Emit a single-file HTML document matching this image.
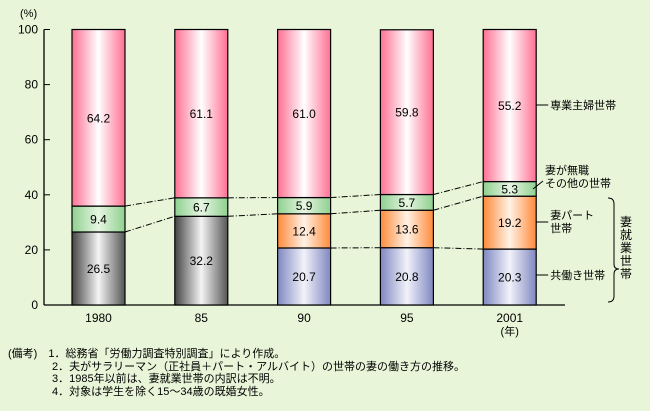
<!DOCTYPE html>
<html><head><meta charset="utf-8">
<style>
body{margin:0;background:#e8f5d8;}
#wrap{position:relative;width:650px;height:411px;background:#e8f5d8;font-family:"Liberation Sans","Noto Sans CJK JP",sans-serif;}
svg text{font-family:"Liberation Sans","Noto Sans CJK JP",sans-serif;}
.notes{position:absolute;left:8px;top:348px;font-size:11px;line-height:12.7px;color:#000;white-space:pre;}
</style></head>
<body>
<div id="wrap">
<svg id="chart" width="650" height="345">
<defs>
<linearGradient id="gPink" x1="0" x2="1"><stop offset="0" stop-color="#ff6f92"/><stop offset="0.5" stop-color="#ffffff"/><stop offset="1" stop-color="#ff6f92"/></linearGradient>
<linearGradient id="gGreen" x1="0" x2="1"><stop offset="0" stop-color="#8fd08f"/><stop offset="0.5" stop-color="#e6f6e2"/><stop offset="1" stop-color="#8fd08f"/></linearGradient>
<linearGradient id="gGray" x1="0" x2="1"><stop offset="0" stop-color="#444"/><stop offset="0.5" stop-color="#f4f4f4"/><stop offset="1" stop-color="#555"/></linearGradient>
<linearGradient id="gOrange" x1="0" x2="1"><stop offset="0" stop-color="#ff8a3a"/><stop offset="0.5" stop-color="#fff2e6"/><stop offset="1" stop-color="#ff8a3a"/></linearGradient>
<linearGradient id="gBlue" x1="0" x2="1"><stop offset="0" stop-color="#7f88c0"/><stop offset="0.5" stop-color="#f2f2fa"/><stop offset="1" stop-color="#7f88c0"/></linearGradient>
</defs>
</svg>
<div class="notes">(備考)　1．総務省「労働力調査特別調査」により作成。
　　　　2．夫がサラリーマン（正社員＋パート・アルバイト）の世帯の妻の働き方の推移。
　　　　3．1985年以前は、妻就業世帯の内訳は不明。
　　　　4．対象は学生を除く15～34歳の既婚女性。</div>
</div>
<script>
const categories=["1980","85","90","95","2001"];
const dualIncome=[0,0,20.7,20.8,20.3];
const wifeWorkTotal=[26.5,32.2,0,0,0];
const partTime=[0,0,12.4,13.6,19.2];
const otherJobless=[9.4,6.7,5.9,5.7,5.3];
const housewife=[64.2,61.1,61.0,59.8,55.2];
const yTicks=[0,20,40,60,80,100];

const svg=document.getElementById('chart');
const NS='http://www.w3.org/2000/svg';
const y0=305,y100=29.5;
const yS=v=>y0-(y0-y100)*v/100;
const bw=53;
const xS=i=>72+i*102.8;
function mk(t,a){const e=document.createElementNS(NS,t);for(const k in a)e.setAttribute(k,a[k]);svg.appendChild(e);return e;}

let ax=mk('line',{x1:44,y1:y0,x2:565,y2:y0,stroke:'#000','stroke-width':1.3});


let ay=mk('line',{x1:44,y1:y100,x2:44,y2:y0,stroke:'#000','stroke-width':1.3});


yTicks.forEach(t=>{
  const tk=mk('line',{x1:44,x2:50,y1:yS(t),y2:yS(t),stroke:'#000'});
  
  
  const tx=mk('text',{x:38,y:yS(t)+4,'text-anchor':'end','font-size':12});
  tx.textContent=t;
  
  
});
const unit=mk('text',{x:20,y:17,'font-size':11});unit.textContent='(%)';



const series=[
 {d:wifeWorkTotal,f:'url(#gGray)',n:'wife-working'},
 {d:dualIncome,f:'url(#gBlue)',n:'dual-income'},
 {d:partTime,f:'url(#gOrange)',n:'part-time'},
 {d:otherJobless,f:'url(#gGreen)',n:'other-jobless'},
 {d:housewife,f:'url(#gPink)',n:'housewife'}];
const tops=[];
categories.forEach((c,i)=>{
  let cum=0;tops[i]=[];
  series.forEach(s=>{
    const v=s.d[i];if(!v)return;
    const top=Math.min(100,cum+v);
    const r=mk('rect',{x:xS(i),y:yS(top),width:bw,height:yS(cum)-yS(top),fill:s.f,stroke:'#000','stroke-width':1.2});
    
    
    const t=mk('text',{x:xS(i)+bw/2,y:(yS(cum)+yS(top))/2+4.5,'text-anchor':'middle','font-size':12});
    t.textContent=v.toFixed(1);
    
    
    cum=top;tops[i].push(cum);
  });
  const xl=mk('text',{x:xS(i)+bw/2,y:322,'text-anchor':'middle','font-size':12});
  xl.textContent=c;
  
  
});
const yr=mk('text',{x:xS(4)+bw/2,y:335,'text-anchor':'middle','font-size':11});yr.textContent='(年)';



for(let i=0;i<categories.length-1;i++){
  const a=tops[i],b=tops[i+1];
  const pairs=[];
  if(a.length===b.length){for(let k=0;k<a.length-1;k++)pairs.push([a[k],b[k]]);}
  else if(a.length<b.length){pairs.push([a[0],b[1]]);pairs.push([a[1],b[2]]);}
  pairs.forEach(p=>{
    const l=mk('line',{x1:xS(i)+bw,y1:yS(p[0]),x2:xS(i+1),y2:yS(p[1]),stroke:'#000','stroke-width':1,'stroke-dasharray':'6,2,1,2'});
    
    
  });
}

const lx=xS(4)+bw;
function lab(lines,y,ly,name){
  const l=mk('line',{x1:lx,y1:ly,x2:lx+12,y2:ly,stroke:'#000'});
  
  
  lines.forEach((s,k)=>{const t=mk('text',{x:lx+14,y:y+k*13,'font-size':11});t.textContent=s;
    
    });
}
lab(['専業主婦世帯'],109,105,'housewife');
lab(['妻パート','世帯'],219,222,'part-time');
lab(['共働き世帯'],279,275,'dual-income');
['妻が無職','その他の世帯'].forEach((s,k)=>{const t=mk('text',{x:545,y:174+k*13,'font-size':11});t.textContent=s;
  
  });
const ol=mk('line',{x1:533,y1:189,x2:543,y2:181,stroke:'#000'});


const br=mk('path',{d:'M608,198 q6,0 6,6 v60 q0,5 5,5 q-5,0 -5,5 v22 q0,6 -6,6',fill:'none',stroke:'#000'});


['妻','就','業','世','帯'].forEach((s,k)=>{const t=mk('text',{x:620,y:226+k*13,'font-size':12});t.textContent=s;
  
  });
</script>
</body></html>
